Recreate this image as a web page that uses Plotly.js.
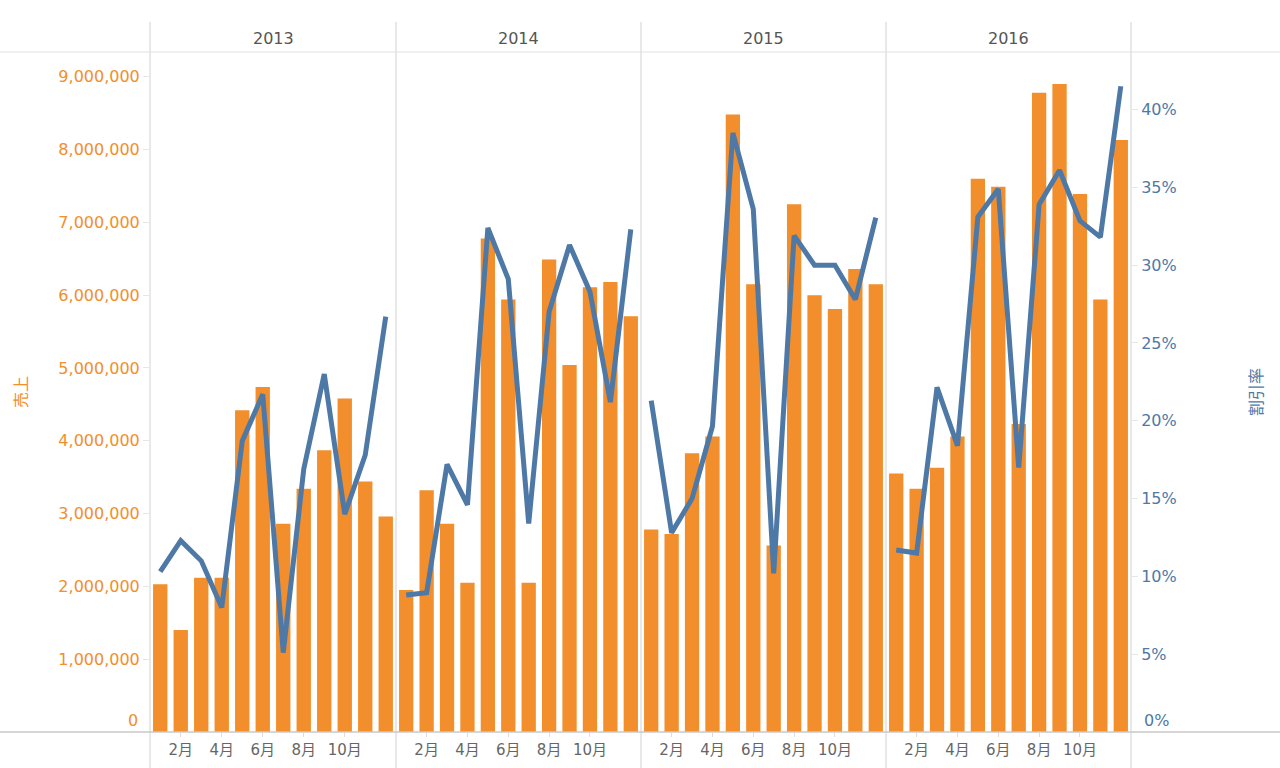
<!DOCTYPE html>
<html>
<head>
<meta charset="utf-8">
<script src="https://cdn.plot.ly/plotly-3.0.1.min.js"></script>
<style>html,body{margin:0;padding:0;background:#fff;}#chart{width:1280px;height:768px;}</style>
</head>
<body>
<div id="chart"></div>
<script>
const years = ["2013", "2014", "2015", "2016"];
const months = [1,2,3,4,5,6,7,8,9,10,11,12];
const monthTickVals = [2,4,6,8,10];
const monthTickText = ["2月","4月","6月","8月","10月"];

const sales2013 = [2030000,1400000,2120000,2120000,4420000,4740000,2860000,3340000,3870000,4580000,3440000,2960000];
const sales2014 = [1950000,3320000,2860000,2050000,6780000,5940000,2050000,6490000,5040000,6110000,6180000,5710000];
const sales2015 = [2780000,2720000,3830000,4060000,8480000,6150000,2560000,7250000,6000000,5810000,6360000,6150000];
const sales2016 = [3550000,3340000,3630000,4060000,7600000,7490000,4230000,8780000,8900000,7390000,5940000,8130000];

const disc2013 = [0.103,0.123,0.110,0.080,0.187,0.217,0.051,0.169,0.230,0.140,0.178,0.267];
const disc2014 = [0.088,0.0895,0.172,0.146,0.324,0.291,0.134,0.270,0.313,0.283,0.212,0.323];
const disc2015 = [0.213,0.128,0.150,0.1965,0.385,0.336,0.102,0.319,0.300,0.300,0.278,0.3305];
const disc2016 = [0.117,0.115,0.2215,0.184,0.331,0.349,0.170,0.339,0.361,0.3285,0.318,0.415];

const salesTicks = [1000000,2000000,3000000,4000000,5000000,6000000,7000000,8000000,9000000];
const discTicks = [0.05,0.10,0.15,0.20,0.25,0.30,0.35,0.40];

const salesByYear = [sales2013, sales2014, sales2015, sales2016];
const discByYear = [disc2013, disc2014, disc2015, disc2016];

const ORANGE = "#F28E2B";
const BLUE = "#4E79A7";
const FONT = "'DejaVu Sans', 'Noto Sans CJK JP', sans-serif";

// pixel layout
const W = 1280, H = 768, L = 150, R = 149, T = 52, B = 36;
const plotW = W - L - R, plotH = H - T - B;
const panelPx = [0, 246, 491, 736, 981];
const px = v => v / plotW;
const py = yPix => (H - B - yPix) / plotH;

const traces = [];
const axNames = ["x","x2","x3","x4"];
years.forEach((yr, i) => {
  traces.push({
    type: "bar", x: months, y: salesByYear[i], xaxis: axNames[i], yaxis: "y",
    marker: {color: ORANGE}, width: 0.70, name: "売上", showlegend: false,
    hovertemplate: yr + "年%{x}月<br>売上: %{y:,}<extra></extra>"
  });
});
years.forEach((yr, i) => {
  traces.push({
    type: "scatter", mode: "lines", x: months, y: discByYear[i], xaxis: axNames[i], yaxis: "y2",
    line: {color: BLUE, width: 5}, name: "割引率", showlegend: false,
    hovertemplate: yr + "年%{x}月<br>割引率: %{y:.1%}<extra></extra>"
  });
});

const layout = {
  width: W, height: H,
  margin: {l: L, r: R, t: T, b: B},
  paper_bgcolor: "#fff", plot_bgcolor: "#fff",
  font: {family: FONT, color: "#666"},
  showlegend: false,
  bargap: 0.3,
  yaxis: {
    range: [0, 9340000], tickvals: salesTicks, tickformat: ",d",
    showgrid: false, zeroline: false, showline: false,
    ticks: "outside", ticklen: 6, tickcolor: "#e6e6e6",
    tickfont: {color: ORANGE, size: 16, family: FONT},
    title: {text: "売上", font: {color: ORANGE, size: 16, family: FONT}, standoff: 26},
    fixedrange: true
  },
  yaxis2: {
    overlaying: "y", side: "right", anchor: "x4",
    range: [0, 0.437], tickvals: discTicks, tickformat: ".0%",
    showgrid: false, zeroline: false, showline: false,
    ticks: "outside", ticklen: 6, tickcolor: "#e6e6e6",
    tickfont: {color: BLUE, size: 16, family: FONT},
    title: {text: "割引率", font: {color: BLUE, size: 16, family: FONT}, standoff: 75},
    fixedrange: true
  },
  shapes: [],
  annotations: []
};

axNames.forEach((ax, i) => {
  const key = i === 0 ? "xaxis" : "xaxis" + (i + 1);
  layout[key] = {
    domain: [px(panelPx[i]), px(panelPx[i + 1])],
    range: [0.5, 12.5], anchor: "y",
    tickvals: monthTickVals, ticktext: monthTickText,
    showgrid: false, zeroline: false, showline: false,
    ticks: "outside", ticklen: 4, tickcolor: "#dcdcdc",
    tickfont: {size: 15, color: "#666", family: FONT},
    fixedrange: true
  };
  layout.annotations.push({
    xref: "paper", yref: "paper", x: (px(panelPx[i]) + px(panelPx[i + 1])) / 2, y: py(38),
    text: years[i], showarrow: false, xanchor: "center", yanchor: "middle",
    font: {size: 16, color: "#555", family: FONT}
  });
});

// vertical separators
panelPx.forEach(p => {
  layout.shapes.push({type: "line", xref: "paper", yref: "paper",
    x0: px(p), x1: px(p), y0: py(768), y1: py(22), line: {color: "#d2d2d2", width: 1}});
});
// header bottom line and baseline
layout.shapes.push({type: "line", xref: "paper", yref: "paper",
  x0: px(-L), x1: px(plotW + R), y0: py(52), y1: py(52), line: {color: "#e0e0e0", width: 1}});
layout.shapes.push({type: "line", xref: "paper", yref: "paper",
  x0: px(-L), x1: px(plotW + R), y0: py(732), y1: py(732), line: {color: "#c8c8c8", width: 1.5}});

// zero labels (drawn slightly above baseline like the original)
layout.annotations.push({xref: "paper", yref: "paper", x: px(-10), y: py(720), text: "0",
  showarrow: false, xanchor: "right", yanchor: "middle", font: {size: 16, color: ORANGE, family: FONT}});
layout.annotations.push({xref: "paper", yref: "paper", x: px(plotW + 11), y: py(720), text: "0%",
  showarrow: false, xanchor: "left", yanchor: "middle", font: {size: 16, color: BLUE, family: FONT}});

Plotly.newPlot("chart", traces, layout, {displayModeBar: false, staticPlot: true});
</script>
</body>
</html>
